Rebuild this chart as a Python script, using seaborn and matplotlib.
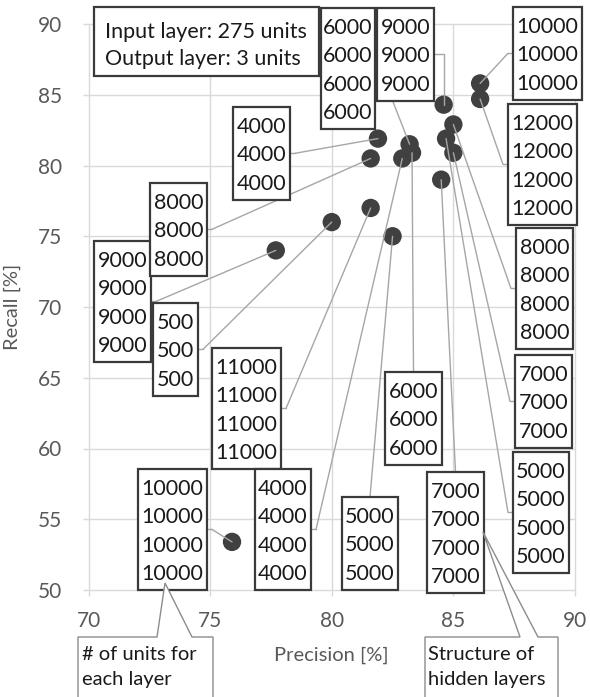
import matplotlib
matplotlib.use("Agg")
import matplotlib.pyplot as plt
from matplotlib import transforms
from matplotlib.patches import Rectangle, Polygon
from matplotlib.lines import Line2D
import pandas as pd
import seaborn as sns

# Precision / recall of each network configuration
precision = [75.9, 77.7, 80.0, 81.6, 82.5, 81.9, 81.6, 83.2, 83.3, 82.9,
             84.6, 85.0, 84.7, 85.0, 84.5, 86.1, 86.1]
recall = [53.4, 74.0, 76.0, 77.0, 75.0, 81.9, 80.5, 81.5, 80.9, 80.5,
          84.3, 82.9, 81.9, 80.9, 79.0, 85.8, 84.7]
# Hidden-layer structure: units per layer and number of hidden layers
units = [10000, 9000, 500, 11000, 5000, 4000, 8000, 6000, 6000, 4000,
         9000, 8000, 5000, 7000, 7000, 10000, 12000]
n_layers = [4, 4, 3, 4, 3, 3, 3, 4, 3, 4, 3, 4, 4, 3, 4, 3, 4]

x_ticks = [70, 75, 80, 85, 90]
y_ticks = [50, 55, 60, 65, 70, 75, 80, 85, 90]

# Callout boxes (figure pixels): left, top, right, side where the leader leaves
box_layout = [
    (138, 469, 207, "right"),
    (94, 241, 151, "right"),
    (153, 303, 198, "right"),
    (212, 348, 281, "right"),
    (342, 497, 398, "top"),
    (233, 107, 290, "right"),
    (150, 183, 207, "right"),
    (321, 8, 375, "right"),
    (385, 372, 442, "top"),
    (255, 469, 311, "right"),
    (377, 8, 434, "elbow"),
    (516, 228, 573, "left"),
    (513, 452, 569, "left"),
    (515, 355, 572, "left"),
    (427, 472, 484, "top"),
    (513, 7, 582, "left"),
    (508, 104, 577, "left"),
]

sns.set_theme(style="whitegrid")
plt.rcParams["font.family"] = ["Lato", "DejaVu Sans"]

W, H = 590, 697
fig = plt.figure(figsize=(W / 100, H / 100), dpi=100)
fig.patch.set_facecolor("white")
ax = fig.add_axes([88.5 / W, 1 - 590 / H, (575 - 88.5) / W, (590 - 24) / H])
ax.set_facecolor("white")

# pixel coordinates measured from the top-left corner of the figure
px = transforms.Affine2D().scale(1 / W, -1 / H).translate(0, 1) + fig.transFigure

df = pd.DataFrame({"Precision [%]": precision, "Recall [%]": recall})
sns.scatterplot(data=df, x="Precision [%]", y="Recall [%]", s=175,
                color="#404040", edgecolor="none", linewidth=0, ax=ax, zorder=3)

ax.set_xlim(70, 90)
ax.set_ylim(50, 90)
ax.set_xticks(x_ticks)
ax.set_yticks(y_ticks)
ax.grid(True, color="#d9d9d9", linewidth=1)
for gl in ax.get_xgridlines() + ax.get_ygridlines():
    gl.set_clip_on(False)
for sp in ax.spines.values():
    sp.set_visible(False)
ax.tick_params(axis="both", bottom=True, left=True, length=4.3, width=1,
               color="#d9d9d9", labelcolor="#595959", labelsize=15)
ax.tick_params(axis="y", pad=15)
ax.tick_params(axis="x", pad=11)
ax.set_xlabel("Precision [%]", color="#595959", fontsize=14.5, labelpad=11)
ax.set_ylabel("Recall [%]", color="#595959", fontsize=14.5, labelpad=12)

line_kw = dict(color="#a6a6a6", lw=1)
pitch = 28.3
stub = 5
fs = 15.5

for p, r, u, n, (l, t, rgt, side) in zip(precision, recall, units, n_layers, box_layout):
    b = t + 36 + (n - 1) * pitch
    cx = (l + rgt) / 2
    if side == "right":
        ay = (t + b) / 2
        fig.add_artist(Line2D([rgt, rgt + stub], [ay, ay], transform=px, zorder=4, **line_kw))
        start, conn = (rgt + stub, ay), "arc3"
    elif side == "left":
        ay = (t + b) / 2
        fig.add_artist(Line2D([l, l - stub], [ay, ay], transform=px, zorder=4, **line_kw))
        start, conn = (l - stub, ay), "arc3"
    elif side == "top":
        start, conn = (cx, t), "arc3"
    else:
        start, conn = (rgt, (t + b) / 2), "angle,angleA=0,angleB=90,rad=0"
    ax.annotate("", xy=(p, r), xycoords="data", xytext=start, textcoords=px,
                annotation_clip=False,
                arrowprops=dict(arrowstyle="-", shrinkA=0, shrinkB=0,
                                connectionstyle=conn, **line_kw), zorder=4)
    fig.add_artist(Rectangle((l, t), rgt - l, b - t, transform=px,
                             facecolor="white", edgecolor="#3a3a3a", lw=1.6, zorder=5))
    for i in range(n):
        fig.text(cx, t + 18.5 + i * pitch + 7.5, str(u), transform=px,
                 ha="center", va="baseline", fontsize=fs, color="#1a1a1a", zorder=6)

# network input/output description
fig.add_artist(Rectangle((94, 7), 319 - 94, 76 - 7, transform=px,
                         facecolor="white", edgecolor="#3a3a3a", lw=1.6, zorder=5))
fig.text(105, 38, "Input layer: 275 units", transform=px, ha="left",
         va="baseline", fontsize=fs, color="#1a1a1a", zorder=6)
fig.text(105, 65, "Output layer: 3 units", transform=px, ha="left",
         va="baseline", fontsize=fs, color="#1a1a1a", zorder=6)

# explanatory callouts below the axis
callouts = [
    ([(78, 700), (78, 637), (157, 637), (165, 583), (192, 637), (213, 637), (213, 700)],
     82, ["# of units for", "each layer"]),
    ([(425, 700), (425, 637), (520, 637), (483, 532), (538, 637), (558, 637), (558, 700)],
     428, ["Structure of", "hidden layers"]),
]
for verts, tx, lines in callouts:
    fig.add_artist(Polygon(verts, closed=True, transform=px, facecolor="white",
                           edgecolor="#8c8c8c", lw=1, zorder=7, clip_on=False))
    for i, txt in enumerate(lines):
        fig.text(tx, 660 + i * 25, txt, transform=px, ha="left", va="baseline",
                 fontsize=14.5, color="#1a1a1a", zorder=8)

fig.savefig("out.png", dpi=100, facecolor="white")
